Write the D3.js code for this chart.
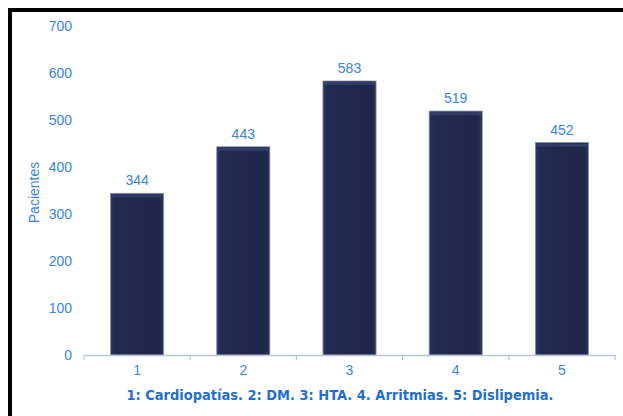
<!DOCTYPE html>
<html>
<head>
<meta charset="utf-8">
<script src="https://cdn.jsdelivr.net/npm/d3@7"></script>
<style>
  html, body { margin: 0; padding: 0; background: #fff; }
  svg { display: block; font-family: "Liberation Sans", Arial, sans-serif; }
</style>
</head>
<body>
<svg id="chart" width="623" height="416"></svg>
<script>
// Patients by diagnosis group
const categories = ["1", "2", "3", "4", "5"];
const patients = [344, 443, 583, 519, 452];
const yTicks = [0, 100, 200, 300, 400, 500, 600, 700];
const yTitle = "Pacientes";
const caption = "1: Cardiopatías. 2: DM. 3: HTA. 4. Arritmias. 5: Dislipemia.";

const svg = d3.select("#chart");
const W = 623, H = 416;
const plot = { left: 84, right: 615, top: 26, bottom: 355 };
const blue = "#3a86da";

// frame: thick black rule along top and left
svg.append("rect").attr("x", 8).attr("y", 8).attr("width", W - 8).attr("height", 4).attr("fill", "#000");
svg.append("rect").attr("x", 8).attr("y", 8).attr("width", 4).attr("height", H - 8).attr("fill", "#000");

const x = d3.scaleBand().domain(categories).range([plot.left, plot.right]).paddingInner(0.5).paddingOuter(0.25);
const y = d3.scaleLinear().domain([0, 700]).range([plot.bottom, plot.top]);

// bar gradient with soft bevel
const defs = svg.append("defs");
const g = defs.append("linearGradient").attr("id", "barGrad").attr("x1", 0).attr("x2", 1).attr("y1", 0).attr("y2", 0);
g.append("stop").attr("offset", "0%").attr("stop-color", "#2c3665");
g.append("stop").attr("offset", "8%").attr("stop-color", "#212a50");
g.append("stop").attr("offset", "92%").attr("stop-color", "#1f274a");
g.append("stop").attr("offset", "100%").attr("stop-color", "#2a335f");

// y axis labels (no axis line)
const yAxis = d3.axisLeft(y).tickValues(yTicks).tickSize(0).tickPadding(0);
const yg = svg.append("g").attr("transform", `translate(${plot.left - 12},0)`).call(yAxis);
yg.select(".domain").remove();
yg.selectAll("text").attr("fill", blue).attr("font-size", 14).attr("font-family", "Liberation Sans, Arial, sans-serif");

// bars
svg.append("g").selectAll("rect.bar").data(patients).join("rect")
  .attr("class", "bar")
  .attr("x", (d, i) => x(categories[i]))
  .attr("y", d => y(d))
  .attr("width", x.bandwidth())
  .attr("height", d => y(0) - y(d))
  .attr("fill", "url(#barGrad)")
  .attr("stroke", "#8a8f9e")
  .attr("stroke-width", 0.8);

// top highlight on each bar
svg.append("g").selectAll("rect.hl").data(patients).join("rect")
  .attr("x", (d, i) => x(categories[i]) + 1)
  .attr("y", d => y(d) + 1)
  .attr("width", x.bandwidth() - 2)
  .attr("height", 3)
  .attr("fill", "#3a4577")
  .attr("opacity", 0.7);

// value labels
svg.append("g").selectAll("text").data(patients).join("text")
  .attr("x", (d, i) => x(categories[i]) + x.bandwidth() / 2)
  .attr("y", d => y(d) - 8)
  .attr("text-anchor", "middle")
  .attr("fill", blue)
  .attr("font-size", 14)
  .text(d => d);

// x axis
const xAxis = d3.axisBottom(x).tickSize(0).tickPadding(10);
const xg = svg.append("g").attr("transform", `translate(0,${plot.bottom})`).call(xAxis);
xg.select(".domain").attr("stroke", "#b9c6d8").attr("stroke-width", 1.5);
xg.selectAll("text").attr("fill", blue).attr("font-size", 14).attr("font-family", "Liberation Sans, Arial, sans-serif");
// boundary tick marks between categories
const bounds = d3.range(categories.length + 1).map(i => plot.left + i * x.step());
svg.append("g").selectAll("line").data(bounds).join("line")
  .attr("x1", d => d).attr("x2", d => d)
  .attr("y1", plot.bottom).attr("y2", plot.bottom + 5)
  .attr("stroke", "#b9c6d8").attr("stroke-width", 1.2);

// y title
svg.append("text")
  .attr("transform", `translate(39,${(plot.top + plot.bottom) / 2 + 2}) rotate(-90)`)
  .attr("text-anchor", "middle")
  .attr("fill", blue)
  .attr("font-size", 14)
  .text(yTitle);

// caption
svg.append("text")
  .attr("x", 340).attr("y", 400)
  .attr("text-anchor", "middle")
  .attr("fill", "#1f6fd0")
  .attr("font-size", 13.5)
  .attr("font-weight", "bold")
  .attr("font-family", "DejaVu Sans, Verdana, sans-serif")
  .attr("textLength", 427)
  .attr("lengthAdjust", "spacingAndGlyphs")
  .text(caption);
</script>
</body>
</html>
